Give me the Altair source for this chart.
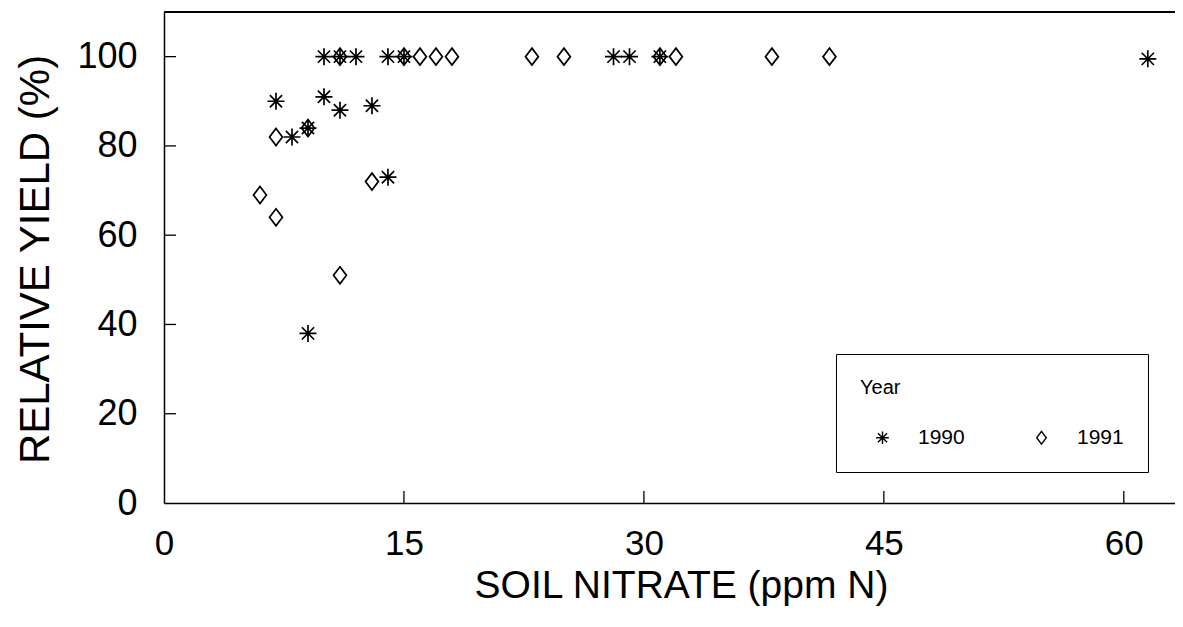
import altair as alt
import pandas as pd

# ---- data ----
nitrate_1990 = [7, 8, 9, 9, 10, 10, 11, 11, 12, 13, 14, 14, 15, 28.1, 29.1, 31, 61.5]
yield_1990   = [90, 82, 84, 38, 100, 91, 100, 88, 100, 89, 73, 100, 100, 100, 100, 100, 99.5]

nitrate_1991 = [6, 7, 7, 9, 11, 11, 13, 15, 16, 17, 18, 23, 25, 31, 32, 38, 41.6]
yield_1991   = [69, 82, 64, 84, 100, 51, 72, 100, 100, 100, 100, 100, 100, 100, 100, 100, 100]

years = ["1990", "1991"]
x_ticks = [0, 15, 30, 45, 60]
y_ticks = [0, 20, 40, 60, 80, 100]
x_inner_ticks = [15, 30, 45, 60]
y_inner_ticks = [20, 40, 60, 80, 100]

df = pd.DataFrame({
    "nitrate": nitrate_1990 + nitrate_1991,
    "yield": yield_1990 + yield_1991,
    "Year": [years[0]] * len(nitrate_1990) + [years[1]] * len(nitrate_1991),
})
xt = pd.DataFrame({"v": x_inner_ticks})
yt = pd.DataFrame({"v": y_inner_ticks})

W, H = 1011, 491
FONT = "Liberation Sans"

ASTERISK = "M-1,0L1,0M0,-1L0,1M-0.72,-0.72L0.72,0.72M-0.72,0.72L0.72,-0.72"
DIAMOND = "M0,-1L0.76,0L0,1L-0.76,0Z"

xscale = alt.Scale(domain=[0, 63.2], nice=False, zero=True)
yscale = alt.Scale(domain=[0, 110], nice=False, zero=True)

xaxis = alt.Axis(
    values=x_ticks, ticks=False, grid=False, labelFlush=False,
    domainColor="black", domainWidth=1.5,
    labelFont=FONT, labelFontSize=35, labelColor="black", labelPadding=23,
    title="SOIL NITRATE (ppm N)", titleFont=FONT, titleFontSize=39,
    titleFontWeight="normal", titleColor="black",
    titleX=517, titleY=94, titleBaseline="alphabetic",
)
yaxis = alt.Axis(
    values=y_ticks, ticks=False, grid=False, labelFlush=False,
    domainColor="black", domainWidth=1.5,
    labelFont=FONT, labelFontSize=36, labelColor="black", labelPadding=27,
    title="RELATIVE YIELD (%)", titleFont=FONT, titleFontSize=42,
    titleFontWeight="normal", titleColor="black", titleAngle=270,
    titleX=-116, titleY=247, titleBaseline="alphabetic", titleAlign="center",
)

points = alt.Chart(df).mark_point(
    filled=False, stroke="black", strokeWidth=1.7, opacity=1, size=289
).encode(
    x=alt.X("nitrate:Q", scale=xscale, axis=xaxis),
    y=alt.Y("yield:Q", scale=yscale, axis=yaxis),
    shape=alt.Shape(
        "Year:N",
        scale=alt.Scale(domain=years, range=[ASTERISK, DIAMOND]),
        legend=alt.Legend(
            title="Year", orient="none", legendX=672, legendY=342,
            direction="horizontal", columns=2,
            titleFont=FONT, titleFontSize=20, titleFontWeight="normal",
            titleColor="black", titlePadding=29,
            labelFont=FONT, labelFontSize=21, labelColor="black",
            padding=24, strokeColor="black", fillColor="white",
            symbolSize=160, symbolStrokeWidth=1.4, symbolStrokeColor="black",
            symbolOffset=12, labelOffset=25, columnPadding=54,
        ),
    ),
)

xticks_layer = alt.Chart(xt).mark_rule(color="black", strokeWidth=1.3).encode(
    x=alt.X("v:Q", scale=xscale),
    y=alt.value(H),
    y2=alt.value(H - 12),
)
yticks_layer = alt.Chart(yt).mark_rule(color="black", strokeWidth=1.3).encode(
    y=alt.Y("v:Q", scale=yscale),
    x=alt.value(0),
    x2=alt.value(12),
)
top_border = alt.Chart(xt).mark_rule(color="black", strokeWidth=1.5).encode(
    y=alt.value(0), x=alt.value(0), x2=alt.value(W)
)

chart = alt.layer(points, xticks_layer, yticks_layer, top_border).properties(
    width=W, height=H,
    autosize=alt.AutoSizeParams(type="none"),
    padding={"left": 156, "top": 4, "right": 0, "bottom": 108},
    background="white",
).configure_view(stroke=None)

chart.save("out.html", embed_options={"renderer": "svg", "actions": False})
